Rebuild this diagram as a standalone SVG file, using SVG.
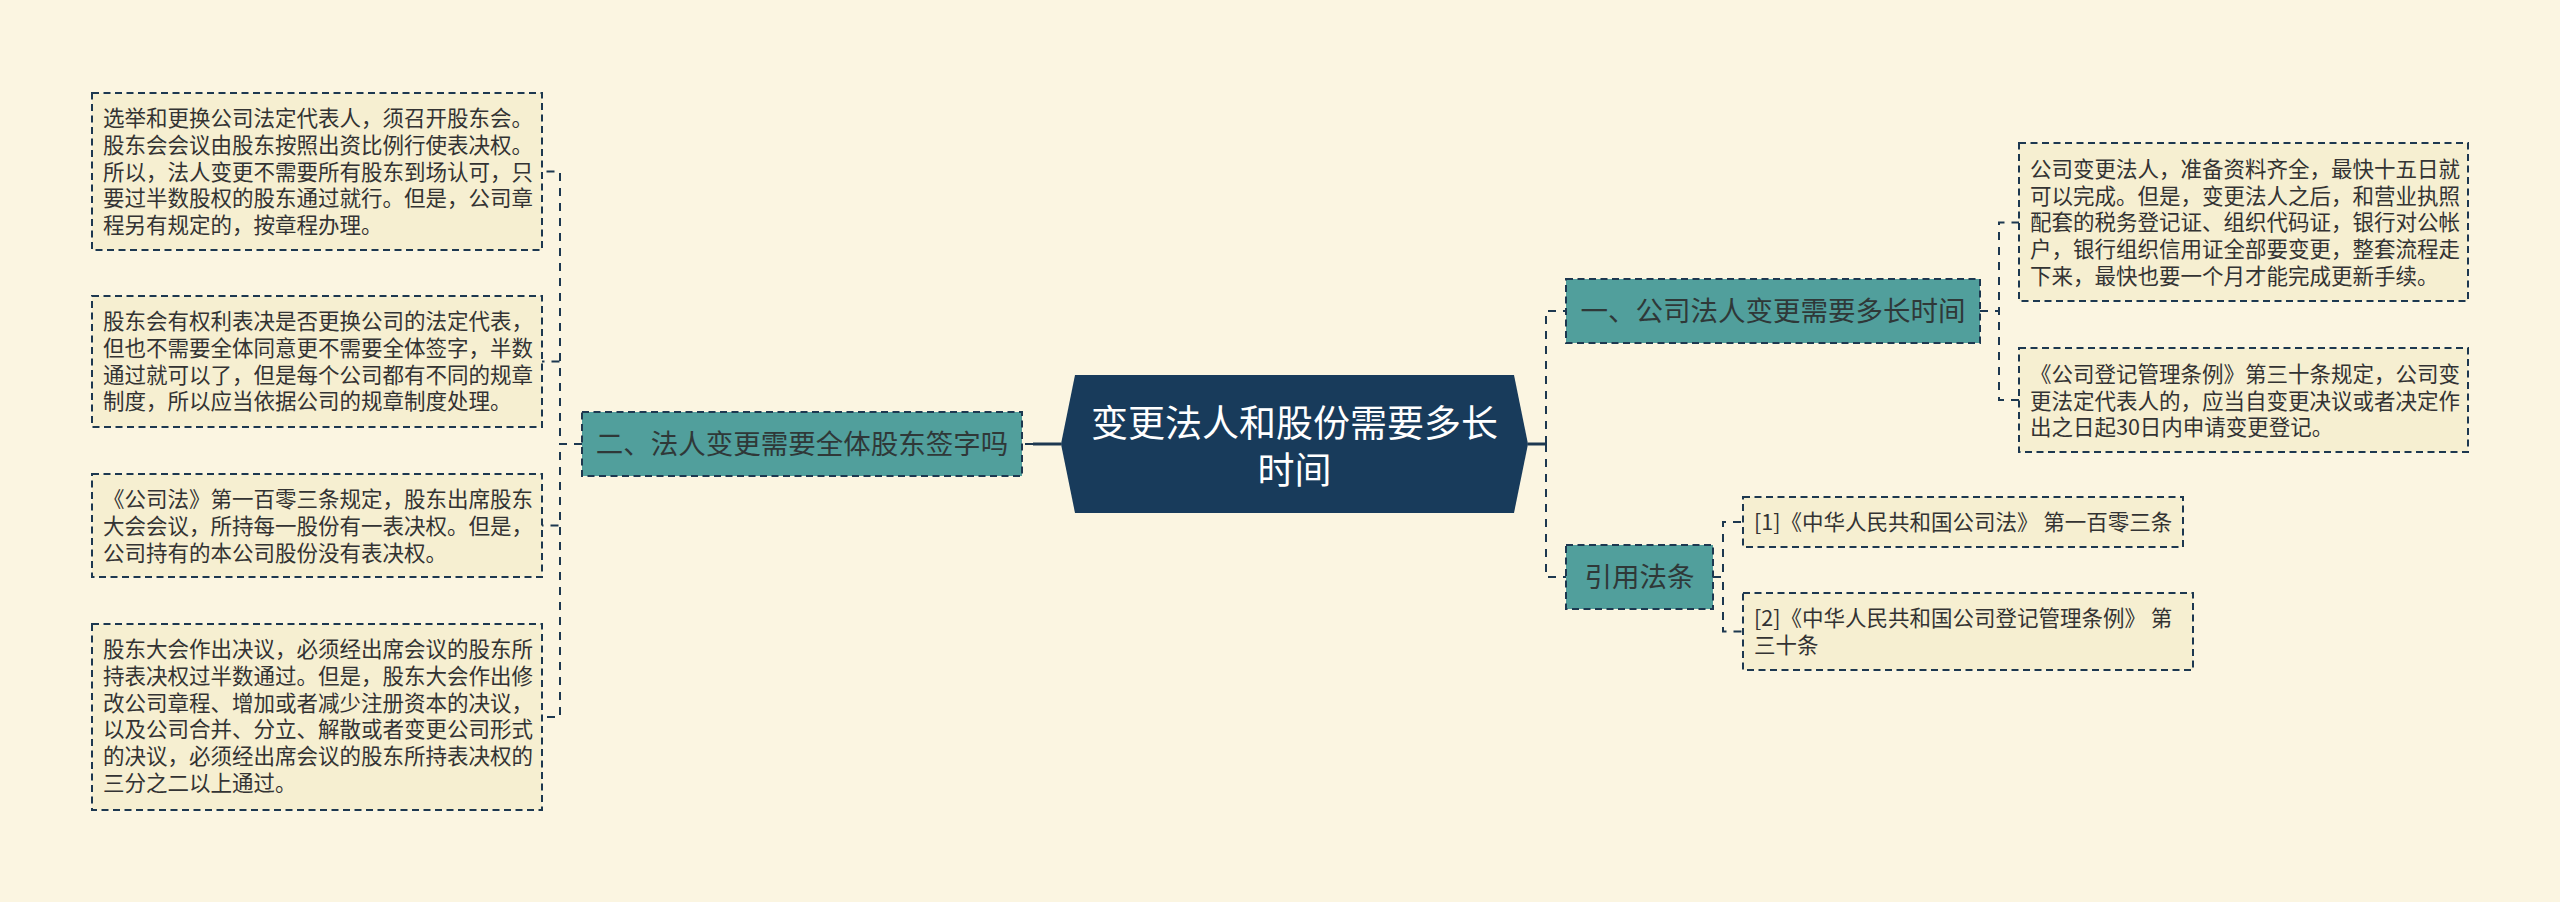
<svg xmlns="http://www.w3.org/2000/svg" width="2560" height="902" viewBox="0 0 2560 902">
<style>
.leaf{fill:#f6efd1;stroke:#1d3850;stroke-width:2;stroke-dasharray:7 4.5}
.branch{fill:#519f9c;stroke:#1d3850;stroke-width:2;stroke-dasharray:7 4.5}
.lt{font-family:"Noto Sans CJK SC","Noto Sans",sans-serif;font-size:21.5px;fill:#333333}
.bt{font-family:"Noto Sans CJK SC","Noto Sans",sans-serif;font-size:27.5px;fill:#2f3838;text-anchor:middle}
.ct{font-family:"Noto Sans CJK SC","Noto Sans",sans-serif;font-size:37px;fill:#ffffff;text-anchor:middle}
.dash{fill:none;stroke:#1d3850;stroke-width:2;stroke-dasharray:8 7}
.solid{fill:none;stroke:#1d3850;stroke-width:3}
</style>
<rect width="2560" height="902" fill="#fbf5e1"/>
<g id="connectors">
<path class="solid" d="M1033,444 H1061"/>
<path class="dash" d="M1033,444 H1022"/>
<path class="dash" d="M582,444 H560 V171.5 H542"/>
<path class="dash" d="M582,444 H560 V361.5 H542"/>
<path class="dash" d="M582,444 H560 V525.5 H542"/>
<path class="dash" d="M582,444 H560 V717 H542"/>
<path class="solid" d="M1528,444 H1546"/>
<path class="dash" d="M1546,444 V311 H1566"/>
<path class="dash" d="M1546,444 V577 H1566"/>
<path class="dash" d="M1980,311 H1999 V222.5 H2019"/>
<path class="dash" d="M1980,311 H1999 V400 H2019"/>
<path class="dash" d="M1713,577 H1723 V522 H1743"/>
<path class="dash" d="M1713,577 H1723 V631.5 H1743"/>
</g>
<g id="center">
<polygon points="1061,444 1075,375 1514,375 1528,444 1514,513 1075,513" fill="#183b5b"/>
<text class="ct"><tspan x="1294.5" y="437">变更法人和股份需要多长</tspan><tspan x="1294.5" y="484">时间</tspan></text>
</g>
<g id="branch-left">
<rect class="branch" x="582" y="412" width="440" height="64"/>
<text class="bt" x="802" y="454">二、法人变更需要全体股东签字吗</text>
</g>
<g id="branch-right1">
<rect class="branch" x="1566" y="279" width="414" height="64"/>
<text class="bt" x="1773" y="321">一、公司法人变更需要多长时间</text>
</g>
<g id="branch-right2">
<rect class="branch" x="1566" y="545" width="147" height="64"/>
<text class="bt" x="1639.5" y="587">引用法条</text>
</g>
<g id="leaf-l1">
<rect class="leaf" x="92" y="93" width="450" height="157"/>
<text class="lt" x="103" y="126.3">选举和更换公司法定代表人，须召开股东会。</text>
<text class="lt" x="103" y="153">股东会会议由股东按照出资比例行使表决权。</text>
<text class="lt" x="103" y="179.6">所以，法人变更不需要所有股东到场认可，只</text>
<text class="lt" x="103" y="206.3">要过半数股权的股东通过就行。但是，公司章</text>
<text class="lt" x="103" y="233">程另有规定的，按章程办理。</text>
</g>
<g id="leaf-l2">
<rect class="leaf" x="92" y="296" width="450" height="131"/>
<text class="lt" x="103" y="329.3">股东会有权利表决是否更换公司的法定代表，</text>
<text class="lt" x="103" y="356">但也不需要全体同意更不需要全体签字，半数</text>
<text class="lt" x="103" y="382.6">通过就可以了，但是每个公司都有不同的规章</text>
<text class="lt" x="103" y="409.3">制度，所以应当依据公司的规章制度处理。</text>
</g>
<g id="leaf-l3">
<rect class="leaf" x="92" y="474" width="450" height="103"/>
<text class="lt" x="103" y="507.3">《公司法》第一百零三条规定，股东出席股东</text>
<text class="lt" x="103" y="534">大会会议，所持每一股份有一表决权。但是，</text>
<text class="lt" x="103" y="560.6">公司持有的本公司股份没有表决权。</text>
</g>
<g id="leaf-l4">
<rect class="leaf" x="92" y="624" width="450" height="186"/>
<text class="lt" x="103" y="657.3">股东大会作出决议，必须经出席会议的股东所</text>
<text class="lt" x="103" y="684">持表决权过半数通过。但是，股东大会作出修</text>
<text class="lt" x="103" y="710.6">改公司章程、增加或者减少注册资本的决议，</text>
<text class="lt" x="103" y="737.3">以及公司合并、分立、解散或者变更公司形式</text>
<text class="lt" x="103" y="764">的决议，必须经出席会议的股东所持表决权的</text>
<text class="lt" x="103" y="790.6">三分之二以上通过。</text>
</g>
<g id="leaf-r1">
<rect class="leaf" x="2019" y="143" width="449" height="158"/>
<text class="lt" x="2030" y="177">公司变更法人，准备资料齐全，最快十五日就</text>
<text class="lt" x="2030" y="203.7">可以完成。但是，变更法人之后，和营业执照</text>
<text class="lt" x="2030" y="230.3">配套的税务登记证、组织代码证，银行对公帐</text>
<text class="lt" x="2030" y="257">户，银行组织信用证全部要变更，整套流程走</text>
<text class="lt" x="2030" y="283.7">下来，最快也要一个月才能完成更新手续。</text>
</g>
<g id="leaf-r2">
<rect class="leaf" x="2019" y="348" width="449" height="104"/>
<text class="lt" x="2030" y="382">《公司登记管理条例》第三十条规定，公司变</text>
<text class="lt" x="2030" y="408.7">更法定代表人的，应当自变更决议或者决定作</text>
<text class="lt" x="2030" y="435.3">出之日起30日内申请变更登记。</text>
</g>
<g id="ref-1">
<rect class="leaf" x="1743" y="497" width="440" height="50"/>
<text class="lt" x="1754" y="530.3">[1]《中华人民共和国公司法》 第一百零三条</text>
</g>
<g id="ref-2">
<rect class="leaf" x="1743" y="593" width="450" height="77"/>
<text class="lt" x="1754" y="626.3">[2]《中华人民共和国公司登记管理条例》 第</text>
<text class="lt" x="1754" y="653">三十条</text>
</g>
</svg>
